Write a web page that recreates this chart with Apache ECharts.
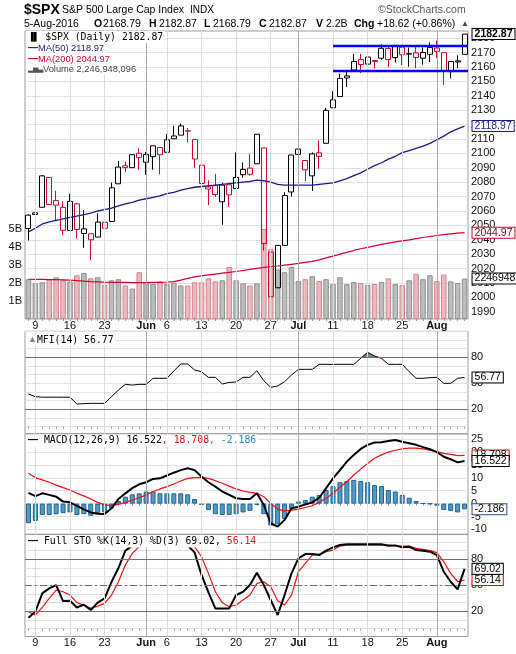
<!DOCTYPE html>
<html>
<head>
<meta charset="utf-8">
<script src="https://cdn.jsdelivr.net/npm/echarts@6/dist/echarts.min.js"></script>
<style>
html, body { margin: 0; padding: 0; background: #fff; }
#chart { width: 516px; height: 654px; }
</style>
</head>
<body>
<div id="chart"></div>
<script>
var dates = [
  '2016-05-06','2016-05-09','2016-05-10','2016-05-11','2016-05-12','2016-05-13',
  '2016-05-16','2016-05-17','2016-05-18','2016-05-19','2016-05-20',
  '2016-05-23','2016-05-24','2016-05-25','2016-05-26','2016-05-27',
  '2016-05-31','2016-06-01','2016-06-02','2016-06-03',
  '2016-06-06','2016-06-07','2016-06-08','2016-06-09','2016-06-10',
  '2016-06-13','2016-06-14','2016-06-15','2016-06-16','2016-06-17',
  '2016-06-20','2016-06-21','2016-06-22','2016-06-23','2016-06-24',
  '2016-06-27','2016-06-28','2016-06-29','2016-06-30','2016-07-01',
  '2016-07-05','2016-07-06','2016-07-07','2016-07-08',
  '2016-07-11','2016-07-12','2016-07-13','2016-07-14','2016-07-15',
  '2016-07-18','2016-07-19','2016-07-20','2016-07-21','2016-07-22',
  '2016-07-25','2016-07-26','2016-07-27','2016-07-28','2016-07-29',
  '2016-08-01','2016-08-02','2016-08-03','2016-08-04','2016-08-05'
];
var opens = [
  2047.8,2057.6,2062.6,2083.3,2067.2,2062.5,2046.5,2065.0,2044.4,2044.2,
  2041.9,2052.2,2052.7,2078.9,2091.4,2090.1,2100.1,2093.9,2097.7,2104.1,
  2100.8,2110.2,2112.7,2115.7,2109.6,2091.8,2076.7,2077.6,2066.4,2078.2,
  2075.6,2085.2,2089.8,2092.8,2103.8,2031.5,2006.7,2036.1,2073.2,2099.3,
  2095.1,2084.4,2100.4,2107.0,2131.7,2139.5,2153.8,2157.9,2165.1,2162.0,
  2164.5,2166.1,2172.9,2166.5,2173.7,2169.0,2169.8,2166.1,2168.8,2173.2,
  2169.9,2156.8,2163.5,2168.79
];
var highs = [
  2057.7,2064.2,2084.9,2083.3,2074.0,2066.8,2071.9,2065.7,2060.6,2044.2,
  2058.4,2055.6,2079.7,2094.7,2094.3,2099.1,2103.5,2101.0,2105.3,2104.1,
  2113.4,2119.2,2120.6,2117.6,2109.6,2098.1,2081.3,2085.7,2079.6,2078.2,
  2100.7,2093.7,2099.7,2113.3,2103.8,2031.5,2036.1,2073.1,2098.9,2108.7,
  2095.1,2100.7,2109.1,2131.7,2143.2,2155.4,2156.5,2169.1,2169.1,2169.0,
  2164.6,2175.6,2174.6,2175.1,2173.7,2173.5,2175.0,2173.6,2177.1,2178.3,
  2170.2,2163.8,2168.2,2182.87
];
var lows = [
  2039.5,2052.9,2062.6,2064.5,2053.1,2043.1,2046.5,2040.8,2034.5,2025.9,
  2041.9,2047.3,2052.7,2078.9,2087.1,2090.1,2088.7,2085.1,2088.6,2085.4,
  2100.8,2110.2,2112.7,2107.7,2090.0,2078.5,2064.1,2069.8,2050.4,2062.8,
  2075.6,2083.0,2084.4,2092.8,2032.6,1991.7,2006.7,2036.1,2070.0,2097.9,
  2080.9,2074.0,2089.4,2107.0,2131.7,2139.5,2146.2,2157.9,2155.8,2159.1,
  2159.0,2164.9,2159.8,2163.2,2161.4,2160.2,2159.1,2161.6,2163.5,2166.2,
  2147.6,2152.1,2159.1,2168.79
];
var closes = [
  2057.1,2058.7,2084.4,2064.5,2064.1,2046.6,2066.7,2047.2,2047.6,2040.0,
  2052.3,2048.0,2076.1,2090.5,2090.1,2099.1,2097.0,2099.3,2105.3,2099.1,
  2109.4,2112.1,2119.1,2115.5,2096.1,2079.1,2075.3,2071.5,2078.0,2071.2,
  2083.3,2088.9,2085.5,2113.3,2037.4,2000.5,2036.1,2070.8,2098.9,2103.0,
  2088.6,2099.7,2097.9,2129.9,2137.2,2152.1,2152.4,2163.8,2161.7,2166.9,
  2163.8,2173.0,2165.2,2175.0,2168.5,2169.2,2166.6,2170.1,2173.6,2170.8,
  2157.0,2163.8,2164.25,2182.87
];
// volume in billions of shares
var volumes = [
  2.21,1.98,2.04,2.21,2.32,2.15,2.08,2.43,2.55,2.26,
  2.32,1.88,2.15,2.21,1.86,1.69,2.60,2.04,1.95,2.09,
  1.95,2.02,1.86,1.86,2.04,2.04,2.26,2.09,2.15,2.89,
  2.15,1.98,1.86,1.98,5.00,3.90,2.75,2.60,2.89,2.11,
  2.21,2.38,2.11,2.21,1.94,2.32,1.94,2.06,2.00,1.89,
  1.94,2.06,2.26,1.94,1.89,2.15,2.51,2.21,2.43,2.11,
  2.47,2.09,2.00,2.246948096
];
var ma50 = [
  2045.5,2048,2051,2052.5,2053.5,2054.5,2055.5,2056.5,2057.5,2058.5,
  2060,2061,2062,2063.5,2065,2066,2067.5,2068.5,2069.5,2070.5,
  2072,2073,2074.5,2075.5,2076.5,2077,2077.5,2078,2078.5,2079,
  2079.5,2080,2080.5,2081.5,2081,2080,2078.5,2078,2078,2078,
  2078,2078,2078.5,2079,2079.5,2081,2082.5,2084.5,2086.5,2089,
  2091.5,2093.5,2096,2098,2100.5,2102,2103.5,2105,2107,2109.5,
  2112,2115,2117,2118.97
];
var ma200 = [
  2012.6,2012.5,2012.5,2012.4,2012.3,2012.2,2012.0,2011.7,2011.3,2011.0,
  2010.8,2010.6,2010.5,2010.4,2010.4,2010.3,2010.3,2010.3,2010.4,2010.5,
  2010.7,2011.0,2012.0,2013.2,2014.2,2015.0,2015.6,2016.2,2016.8,2017.4,
  2018.0,2018.7,2019.4,2020.1,2020.8,2021.3,2021.8,2022.4,2023.0,2023.6,
  2024.3,2025.0,2026.1,2027.4,2028.7,2030.0,2031.3,2032.6,2033.8,2034.8,
  2035.8,2036.8,2037.7,2038.5,2039.3,2040.0,2040.8,2041.6,2042.3,2043.0,
  2043.6,2044.1,2044.6,2044.97
];
var mfi = [
  37.7,34.6,34,34,34,34,34,26.1,26.5,26.9,
  26.9,26.9,34.6,42.3,48.8,48,48.8,48.8,55.8,55.8,
  55.8,64.2,72.3,72.3,65.4,63.4,56.9,56.9,49.2,51.1,
  51.5,56.9,56.9,64.6,53,45.4,46.9,51.9,59.6,66.1,
  66.1,66.1,71.9,71.9,71.9,71.9,71.9,71.9,78.8,85.7,
  81.5,78.8,71.9,71.9,71.9,63.4,55.8,55.8,56.5,56.9,
  50,50,55.8,56.77
];
var macd = [
  4.2,2.9,4.0,3.4,2.7,0.8,0.5,-0.9,-2.2,-3.4,
  -3.9,-4.0,-1.8,1.8,4.0,6.0,7.5,8.3,9.6,9.8,
  10.9,12.0,13.0,13.7,13.0,10.5,8.3,6.6,4.7,3.4,
  2.1,1.8,1.8,4.0,-0.5,-7.6,-8.9,-6.3,-1.8,-1.2,
  -0.3,0.5,2.3,6.0,9.8,13.0,16.3,18.9,21.2,22.8,
  23.7,23.8,24.3,24.7,24.0,23.4,22.8,21.9,21.1,20.0,
  18.2,17.2,16.0,16.522
];
var signal = [
  11.8,10.1,9.2,8.3,7.2,6.2,5.3,4.0,3.0,1.8,
  0.5,-0.5,-0.8,-0.3,0.5,1.4,2.3,3.4,4.7,5.7,
  6.6,7.6,8.8,9.8,10.1,10.2,9.8,8.9,7.9,6.8,
  5.7,4.9,4.4,4.0,2.7,0.1,-2.1,-2.8,-2.5,-2.1,
  -1.5,-0.8,0.5,2.1,4.0,6.3,8.5,11.1,13.4,15.6,
  17.6,18.9,20.0,20.7,21.2,21.5,21.5,21.2,20.7,20.2,
  19.5,19.1,18.6,18.708
];
var hist = [
  -7.6,-6.7,-4.4,-4.4,-4.1,-3.7,-3.4,-4.4,-4.1,-4.7,
  -3.7,-3.4,-1.8,1.0,2.7,3.6,4.0,4.7,4.7,4.0,
  4.0,4.0,4.0,3.6,1.8,-0.5,-2.5,-4.1,-4.4,-4.4,
  -4.1,-3.4,-2.8,-0.5,-4.1,-8.5,-8.0,-5.9,-2.1,0.8,
  1.4,2.7,3.4,5.3,6.8,8.3,8.8,9.2,8.8,8.3,
  7.2,6.8,5.3,4.7,3.4,2.3,1.0,0.1,-0.1,-0.8,
  -2.5,-2.8,-3.4,-2.186
];
var stoK = [
  12.7,19.6,40.7,46.5,50.3,31.9,32.3,24.5,27.7,21.5,
  30,35,54,70,90,95.5,98,99,99,98,
  97,97,97,96,88,62,42,23.4,23.4,23.4,
  38.8,42.6,50.3,64.5,50.3,33.1,15.8,38.8,63.8,81.1,
  86.1,86.1,84.9,90,93.8,96.5,97.3,97.3,97.3,97.3,
  97.3,97.3,95.7,96.1,93.8,94.6,90.7,90,88.8,84.9,
  65.7,54.2,45.3,69.02
];
var stoD = [
  19.6,15.8,24.6,35.0,44.6,42.6,38.8,30,27.3,23.4,
  26.1,29.2,38.8,54.2,73.4,86.9,94.6,97,98,98.5,
  98,97.5,97,96.5,94.6,83,63.8,42.6,30,25.4,
  27.3,33.1,38.8,52.2,54.2,48.5,32.3,27.3,38.8,65.7,
  75.3,84.9,86.1,88.8,90.7,95.3,96.5,96.5,96.5,96.5,
  96.5,96.5,96.5,95.7,95.3,95.3,92.7,91.5,90,87.7,
  77.3,63.8,54.2,56.14
];
var tickDates = ['2016-05-09','2016-05-16','2016-05-23','2016-06-01','2016-06-06','2016-06-13',
  '2016-06-20','2016-06-27','2016-07-01','2016-07-11','2016-07-18','2016-07-25','2016-08-01'];
var tickLabels = ['9','16','23','Jun','6','13','20','27','Jul','11','18','25','Aug'];
var trendStart = '2016-07-11';
var resistance = 2174.6;
var support = 2157.2;

var RED = '#d2042d';
var NAVY = '#1a1a8c';
var GRID = '#e1e1e1';
var NONE = 'rgba(0,0,0,0)';
var ARIAL = '"Liberation Sans", Arial, sans-serif';
var MONO = '"DejaVu Sans Mono", monospace';
var last = dates.length - 1;

function isMonth(label) {
  return /[A-Za-z]/.test(label);
}

function candleData() {
  var result = [];
  for (var i = 0; i < dates.length; i++) {
    var prev = i > 0 ? closes[i - 1] : opens[i];
    var col = closes[i] < prev ? RED : '#000';
    result.push({
      value: [opens[i], closes[i], lows[i], highs[i]],
      itemStyle: { color: NONE, color0: col, borderColor: col, borderColor0: col }
    });
  }
  return result;
}

function volumeData() {
  var result = [];
  for (var i = 0; i < dates.length; i++) {
    var down = i > 0 && closes[i] < closes[i - 1];
    result.push({
      value: volumes[i],
      itemStyle: down ? { color: '#ebb9be', borderColor: '#d08590', borderWidth: 1 }
                      : { color: '#bdbdbd', borderColor: '#8e8e8e', borderWidth: 1 }
    });
  }
  return result;
}

function xAxis(gridIndex, showLabels) {
  return {
    type: 'category', gridIndex: gridIndex, data: dates, boundaryGap: true,
    axisLine: { show: false },
    axisTick: { show: true, interval: 0, alignWithLabel: true, length: 2, lineStyle: { color: '#999' } },
    axisLabel: {
      show: showLabels, margin: 1, fontSize: 11, fontFamily: ARIAL, color: '#111',
      interval: function (i, v) { return tickDates.indexOf(v) >= 0; },
      formatter: function (v) {
        var t = tickLabels[tickDates.indexOf(v)];
        return isMonth(t) ? '{m|' + t + '}' : t;
      },
      rich: { m: { fontWeight: 'bold', fontSize: 11, fontFamily: ARIAL } }
    },
    splitLine: { show: false }
  };
}

function labelOnly(list) {
  return function (v) { return list.indexOf(v) >= 0 ? String(v) : ''; };
}

// colour list for split lines: one grey line every `step` ticks, starting at tick `first`
function every(step, first) {
  var c = [];
  for (var i = 0; i < step; i++) c.push(i === first ? GRID : NONE);
  return c;
}

function rightAxis(gridIndex, min, max, interval, formatter, lineColors) {
  return {
    type: 'value', gridIndex: gridIndex, position: 'right', min: min, max: max, interval: interval,
    axisLine: { show: false }, axisTick: { show: false },
    axisLabel: { formatter: formatter, margin: 3, fontSize: 11, fontFamily: ARIAL, color: '#111' },
    splitLine: { show: true, lineStyle: { color: lineColors, width: 1 } }
  };
}

// vertical week / month lines, drawn through the category centres
function weekLines(xi, yi) {
  return {
    type: 'line', xAxisIndex: xi, yAxisIndex: yi, data: dates.map(function () { return null; }),
    silent: true, z: 1, showSymbol: false,
    markLine: {
      silent: true, symbol: 'none', label: { show: false }, animation: false,
      data: tickDates.map(function (d, k) {
        return { xAxis: d, lineStyle: { type: 'solid', width: 1, color: isMonth(tickLabels[k]) ? '#a8a8a8' : '#dcdcdc' } };
      })
    }
  };
}

function tag(color, textColor, bold) {
  return {
    show: true, distance: 8, fontSize: 10.5, lineHeight: 9, fontFamily: ARIAL, fontWeight: bold ? 'bold' : 'normal',
    color: textColor, backgroundColor: '#fff', borderColor: color, borderWidth: 1, padding: [1, 2, 0, 2]
  };
}

function endTag(color, textColor, digits) {
  var t = tag(color, textColor, false);
  t.formatter = function (p) { return Number(p.value).toFixed(digits); };
  return t;
}

function levelLines(list) {
  return {
    silent: true, symbol: 'none', label: { show: false }, animation: false,
    data: list.map(function (l) {
      return { yAxis: l[0], lineStyle: { color: '#707070', width: 1, type: l[1] || 'solid' } };
    })
  };
}

var priceLabels = [];
for (var p = 1990; p <= 2180; p += 10) priceLabels.push(p);

var chart = echarts.init(document.getElementById('chart'));

chart.setOption({
  animation: false,
  backgroundColor: '#fff',
  grid: [
    { left: 25, right: 48, top: 31, height: 288, show: true, borderColor: '#9c9c9c', borderWidth: 1 },
    { left: 25, right: 48, top: 331.3, height: 102.3, show: true, borderColor: '#9c9c9c', borderWidth: 1 },
    { left: 25, right: 48, top: 434.0, height: 100.6, show: true, borderColor: '#9c9c9c', borderWidth: 1 },
    { left: 25, right: 48, top: 534.2, height: 102.3, show: true, borderColor: '#9c9c9c', borderWidth: 1 }
  ],
  xAxis: [xAxis(0, true), xAxis(1, false), xAxis(2, false), xAxis(3, true)],
  yAxis: [
    rightAxis(0, 1985, 2185, 5, labelOnly(priceLabels), every(2, 1)),
    {
      type: 'value', gridIndex: 0, position: 'left', min: 0, max: 16, interval: 1,
      axisLine: { show: false }, axisTick: { show: false }, splitLine: { show: false },
      axisLabel: {
        margin: 3, fontSize: 11, fontFamily: ARIAL, color: '#111',
        formatter: function (v) { return v >= 1 && v <= 5 ? v + 'B' : ''; }
      }
    },
    rightAxis(1, -8, 110, 1, labelOnly([80, 50, 20]), every(10, 8)),
    rightAxis(2, -12, 27, 1, function (v) { return v % 5 === 0 ? String(v) : ''; }, every(5, 2)),
    rightAxis(3, -9, 109, 1, labelOnly([80, 50, 20]), every(10, 9))
  ],
  series: [
    weekLines(0, 0),
    {
      name: 'Volume', type: 'bar', xAxisIndex: 0, yAxisIndex: 1, data: volumeData(),
      barWidth: 5.5, z: 2, silent: true,
      markPoint: {
        symbol: 'circle', symbolSize: 0, silent: true,
        data: [{ coord: [dates[last], volumes[last]], value: volumes[last] }],
        label: (function () {
          var t = tag('#000', '#000', false); t.position = 'right';
          t.formatter = function () { return String(Math.round(volumes[last] * 1e6)); };
          return t;
        })()
      }
    },
    {
      name: '$SPX', type: 'candlestick', xAxisIndex: 0, yAxisIndex: 0, data: candleData(),
      barWidth: 5.5, z: 3, silent: true,
      markPoint: {
        symbol: 'circle', symbolSize: 0, silent: true,
        data: [{ coord: [dates[last], closes[last]], value: closes[last] }],
        label: (function () {
          var t = tag('#000', '#000', true); t.position = 'right';
          t.formatter = function () { return closes[last].toFixed(2); };
          return t;
        })()
      }
    },
    {
      name: 'MA(50)', type: 'line', xAxisIndex: 0, yAxisIndex: 0, data: ma50, z: 4,
      showSymbol: false, lineStyle: { color: NAVY, width: 1.3 }, silent: true,
      endLabel: endTag(NAVY, NAVY, 2)
    },
    {
      name: 'MA(200)', type: 'line', xAxisIndex: 0, yAxisIndex: 0, data: ma200, z: 4,
      showSymbol: false, lineStyle: { color: RED, width: 1.2 }, silent: true,
      endLabel: endTag(RED, '#8a0020', 2)
    },
    weekLines(1, 2),
    {
      name: 'MFI fill', type: 'line', xAxisIndex: 1, yAxisIndex: 2, z: 3, silent: true,
      data: mfi.map(function (v) { return Math.max(v, 80); }),
      showSymbol: false, lineStyle: { width: 0 },
      areaStyle: { origin: 80, color: '#6f8f6f', opacity: 1 }
    },
    {
      name: 'MFI(14)', type: 'line', xAxisIndex: 1, yAxisIndex: 2, data: mfi, z: 4, silent: true,
      showSymbol: false, lineStyle: { color: '#000', width: 1 },
      markLine: levelLines([[80], [20]]),
      endLabel: endTag('#000', '#000', 2)
    },
    weekLines(2, 3),
    {
      name: 'Histogram', type: 'bar', xAxisIndex: 2, yAxisIndex: 3, data: hist, barWidth: 5, z: 2, silent: true,
      itemStyle: { color: '#4d9dcb', borderColor: '#245f8c', borderWidth: 1 },
      markPoint: {
        symbol: 'circle', symbolSize: 0, silent: true,
        data: [{ coord: [dates[last], hist[last]], value: hist[last] }],
        label: (function () {
          var t = tag('#2c4f9a', '#000', false); t.position = 'right';
          t.formatter = function () { return hist[last].toFixed(3); };
          return t;
        })()
      }
    },
    {
      name: 'Signal', type: 'line', xAxisIndex: 2, yAxisIndex: 3, data: signal, z: 3, silent: true,
      showSymbol: false, lineStyle: { color: '#f01010', width: 1.2 },
      endLabel: endTag('#e00000', '#000', 3)
    },
    {
      name: 'MACD', type: 'line', xAxisIndex: 2, yAxisIndex: 3, data: macd, z: 4, silent: true,
      showSymbol: false, lineStyle: { color: '#000', width: 2 },
      endLabel: endTag('#000', '#000', 3)
    },
    weekLines(3, 4),
    {
      name: '%D', type: 'line', xAxisIndex: 3, yAxisIndex: 4, data: stoD, z: 3, silent: true,
      showSymbol: false, lineStyle: { color: '#f01010', width: 1.2 },
      endLabel: endTag('#e00000', '#000', 2)
    },
    {
      name: '%K', type: 'line', xAxisIndex: 3, yAxisIndex: 4, data: stoK, z: 4, silent: true,
      showSymbol: false, lineStyle: { color: '#000', width: 2 },
      markLine: levelLines([[80], [20], [50, [7, 3, 2, 3]]]),
      endLabel: endTag('#000', '#000', 2)
    }
  ]
});

// support / resistance lines run from the start date to the right edge of the price panel
function trendLine(value) {
  var a = chart.convertToPixel({ xAxisIndex: 0, yAxisIndex: 0 }, [trendStart, value]);
  var c1 = chart.convertToPixel({ xAxisIndex: 0 }, dates[last]);
  var c0 = chart.convertToPixel({ xAxisIndex: 0 }, dates[last - 1]);
  return {
    type: 'line', z: 20, silent: true,
    shape: { x1: a[0], y1: a[1], x2: c1 + (c1 - c0) / 2, y2: a[1] },
    style: { stroke: '#0000ff', lineWidth: 2.5 }
  };
}

function text(x, y, str, font, color, extra) {
  var style = { text: str, font: font, fill: color || '#000' };
  if (extra) for (var k in extra) style[k] = extra[k];
  return { type: 'text', x: x, y: y, z: 30, silent: true, style: style };
}

var chg = closes[last] - closes[last - 1];
var pct = chg / closes[last - 1] * 100;
var f11 = '10.5px ' + ARIAL;
var b11 = 'bold 10.5px ' + ARIAL;
var mono = '9.8px ' + MONO;

chart.setOption({
  graphic: [
    trendLine(resistance),
    trendLine(support),
    text(24, 3, '$SPX', 'bold 14px ' + ARIAL),
    text(62, 5, 'S&P 500 Large Cap Index', f11),
    text(190, 5, 'INDX', '10px ' + ARIAL),
    text(378, 5, '\u00a9StockCharts.com', f11, '#555'),
    text(24, 19, '5-Aug-2016', f11),
    text(94, 19, 'O', b11),
    text(103, 19, opens[last].toFixed(2), f11),
    text(149, 19, 'H', b11),
    text(159, 19, highs[last].toFixed(2), f11),
    text(204, 19, 'L', b11),
    text(213, 19, lows[last].toFixed(2), f11),
    text(259, 19, 'C', b11),
    text(269, 19, closes[last].toFixed(2), f11),
    text(316, 19, 'V', b11),
    text(326, 19, volumes[last].toFixed(1) + 'B', f11),
    text(354, 19, 'Chg', b11),
    text(377, 19, '+' + chg.toFixed(2) + ' (+' + pct.toFixed(2) + '%)', f11),
    text(461, 20, '\u25b2', '8px ' + ARIAL, '#444'),
    // price panel legend
    text(26, 31, '{i|\u2590\u258c} $SPX (Daily) ' + closes[last].toFixed(2), mono, '#000',
      { backgroundColor: '#fff', padding: [1, 2], rich: { i: { font: '8px ' + ARIAL, fill: '#000' } } }),
    text(26, 42, '{i|\u2014}MA(50) ' + ma50[last].toFixed(2), '9.3px ' + ARIAL, NAVY,
      { backgroundColor: '#fff', padding: [1, 2], rich: { i: { font: 'bold 10px ' + ARIAL, fill: NAVY } } }),
    text(26, 53, '{i|\u2014}MA(200) ' + ma200[last].toFixed(2), '9.3px ' + ARIAL, RED,
      { backgroundColor: '#fff', padding: [1, 2], rich: { i: { font: 'bold 10px ' + ARIAL, fill: RED } } }),
    text(26, 64, '{i|\u2582\u2585\u2583}Volume ' + Math.round(volumes[last] * 1e9).toLocaleString('en-US'),
      '9.3px ' + ARIAL, '#444',
      { backgroundColor: '#fff', padding: [1, 2], rich: { i: { font: '7px ' + ARIAL, fill: '#555' } } }),
    // indicator legends
    text(26, 334, '{i|\u25b2}MFI(14) ' + mfi[last].toFixed(2), mono, '#000',
      { backgroundColor: '#fff', padding: [1, 2], rich: { i: { font: '9px ' + ARIAL, fill: '#6f8f6f' } } }),
    text(26, 434.5, '{i|\u2014} MACD(12,26,9) ' + macd[last].toFixed(3) + '{r|, ' + signal[last].toFixed(3) + '}{b|, ' + hist[last].toFixed(3) + '}',
      mono, '#000',
      { backgroundColor: '#fff', padding: [1, 2], rich: {
        i: { font: 'bold 10px ' + ARIAL, fill: '#000' },
        r: { font: mono, fill: '#f01010' },
        b: { font: mono, fill: '#2a8ac4' } } }),
    text(26, 535.5, '{i|\u2014} Full STO %K(14,3) %D(3) ' + stoK[last].toFixed(2) + ', {r|' + stoD[last].toFixed(2) + '}',
      mono, '#000',
      { backgroundColor: '#fff', padding: [1, 2], rich: {
        i: { font: 'bold 10px ' + ARIAL, fill: '#000' },
        r: { font: mono, fill: '#f01010' } } })
  ]
});
</script>
</body>
</html>
